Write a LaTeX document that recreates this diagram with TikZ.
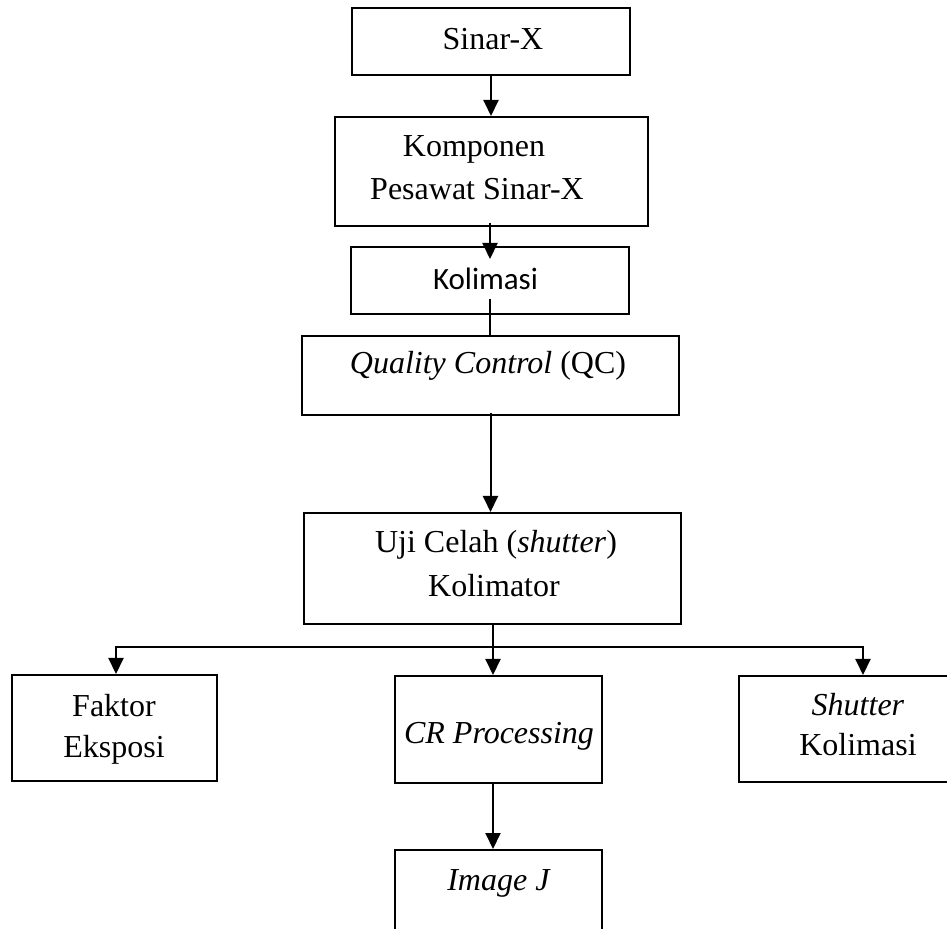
\documentclass[tikz,border=0pt]{standalone}
\usepackage{fontspec}
\setmainfont{Liberation Serif}
\newfontfamily\calib{Carlito}
\usetikzlibrary{arrows.meta}
\begin{document}
\begin{tikzpicture}[x=0.5pt,y=-0.5pt,
  box/.style={draw, line width=1pt, inner sep=0pt},
  txt/.style={anchor=base, inner sep=0pt, font=\fontsize{16}{19}\selectfont},
  arr/.style={line width=1pt, -{Triangle[width=7.5pt,length=8pt]}},
  ln/.style={line width=1pt}]
\useasboundingbox (0,0) rectangle (947,929);
\clip (0,0) rectangle (947,929);

\node[box, minimum width=139pt, minimum height=33.5pt] (sx) at (491,41.5) {};
\node[txt] (sxt) at (493,50) {Sinar-X};
\node[box, minimum width=156.5pt, minimum height=54.5pt] (kom) at (491.5,171.5) {};
\node[txt] (komt1) at (474,157) {Komponen};
\node[txt] (komt2) at (477,200) {Pesawat Sinar-X};
\node[box, minimum width=139pt, minimum height=33.5pt] (kol) at (490,280.5) {};
\node[txt, font=\calib\fontsize{15.5}{18}\selectfont] (kolt) at (485.5,290) {Kolimasi};
\node[box, minimum width=188.5pt, minimum height=39.5pt] (qc) at (490.5,375.5) {};
\node[txt] (qct) at (488,374) {\textit{Quality Control} (QC)};
\node[box, minimum width=188.5pt, minimum height=55.5pt] (uji) at (492.5,568.5) {};
\node[txt] (ujit1) at (496,553) {Uji Celah (\textit{shutter})};
\node[txt] (ujit2) at (494,597) {Kolimator};
\node[box, minimum width=102.5pt, minimum height=53pt] (fak) at (114.5,728) {};
\node[txt] (fakt1) at (114,716) {Faktor};
\node[txt] (fakt2) at (114,757) {Eksposi};
\node[box, minimum width=103.5pt, minimum height=53.5pt] (cr) at (498.5,729.5) {};
\node[txt] (crt) at (499,743) {\textit{CR Processing}};
\node[box, minimum width=119pt, minimum height=53pt] (sh) at (858,729) {};
\node[txt] (sht1) at (858,715) {\textit{Shutter}};
\node[txt] (sht2) at (858,755) {Kolimasi};
\node[box, minimum width=103.5pt, minimum height=55pt] (ij) at (498.5,905) {};
\node[txt] (ijt) at (499,890) {\textit{Image J}};

\coordinate (k1) at (kom.south -| kol.north);
\coordinate (bm) at (493,647);
\coordinate (bl) at (116,647);
\coordinate (br) at (863,647);

\draw[arr] (sx.south) -- (sx.south |- kom.north);
\draw[arr] ([yshift=2pt]k1) -- ([yshift=-6.5pt]kol.north);
\draw[ln] ([yshift=8pt]kol.south) -- (kol.south |- qc.north);
\draw[arr] ([yshift=1.5pt]qc.south) -- (qc.south |- uji.north);
\draw[ln] (uji.south -| bm) -- (bm);
\draw[arr] (bm) -| (bl |- fak.north);
\draw[arr] (bm) -| (br |- sh.north);
\draw[arr] (bm) -- (bm |- cr.north);
\draw[arr] (cr.south -| bm) -- (bm |- ij.north);
\end{tikzpicture}
\end{document}
